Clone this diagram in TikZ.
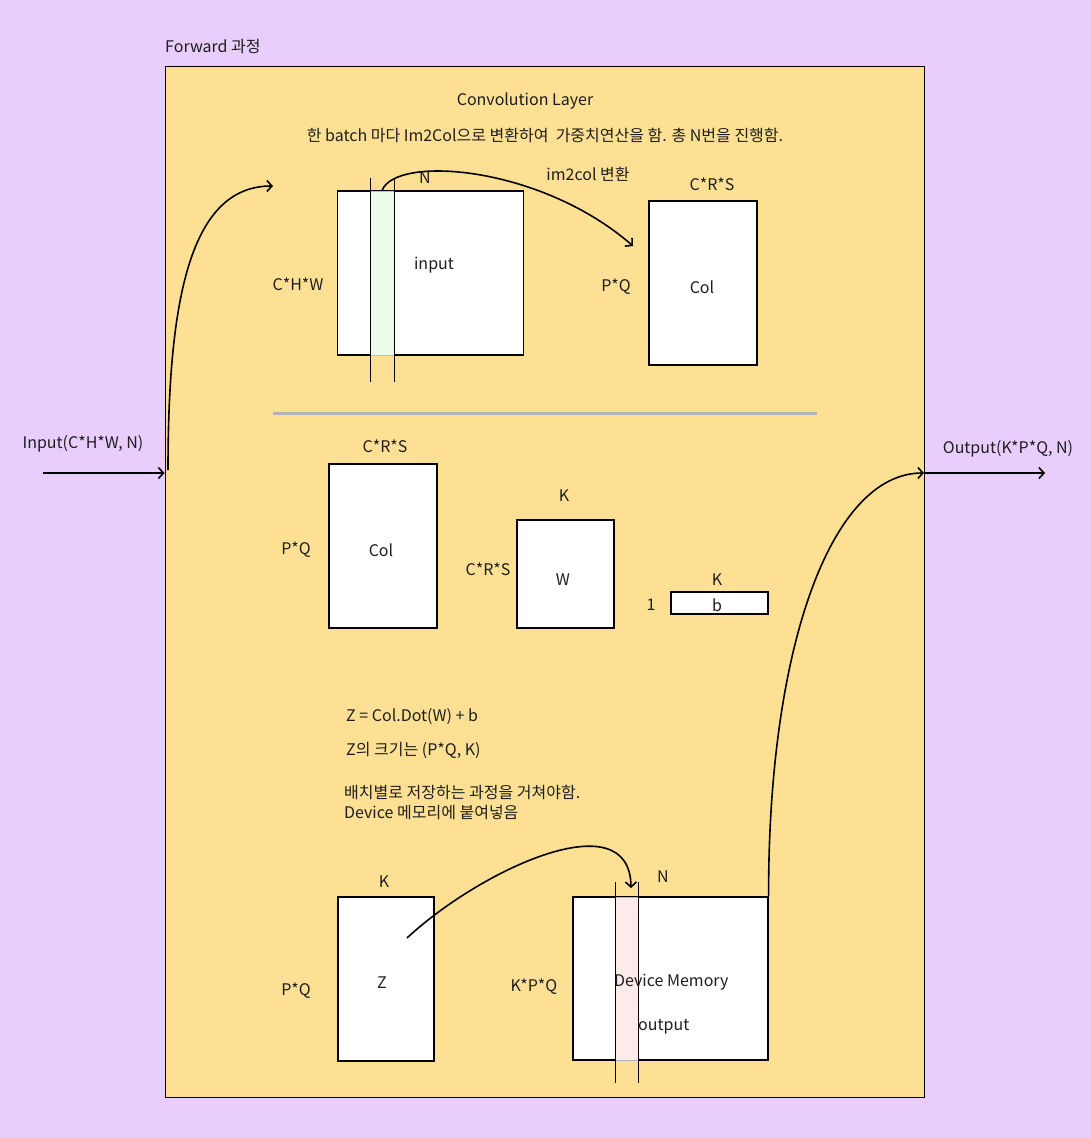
\documentclass[tikz,border=0pt]{standalone}
\usepackage{fontspec}
\setmainfont{Noto Sans CJK KR}
\usetikzlibrary{positioning,arrows.meta}
\definecolor{bgpurple}{HTML}{E9CEFD}
\definecolor{layeryellow}{HTML}{FDE093}
\definecolor{stripgreen}{HTML}{EEFAEA}
\definecolor{strippink}{HTML}{FDEAEA}
\definecolor{stripedge}{HTML}{B8C4B4}
\definecolor{sepgray}{HTML}{B3B3B3}
\definecolor{ink}{HTML}{1E1E1E}

\begin{document}
\begin{tikzpicture}[x=1pt,y=-1pt,
    font=\fontsize{16}{19}\selectfont, text=ink,
    mat/.style={draw=black, fill=white, line width=1.2pt, inner sep=0pt},
    strip/.style={draw=stripedge, line width=0.8pt, inner sep=0pt},
    lbl/.style={inner sep=0pt, yshift=-1.5pt},
    flow/.style={line width=1.6pt, -{Straight Barb[length=5pt,width=11pt]}},
    guide/.style={line width=1pt}]
    \useasboundingbox (0,0) rectangle (1091,1138);
    \fill[bgpurple] (0,0) rectangle (1091,1138);

    % layer frame
    \node[draw=black, fill=layeryellow, line width=1pt, inner sep=0pt,
          minimum width=759pt, minimum height=1031pt] (frame) at (544.5,581.5) {};
    \node[lbl, anchor=west] (fwd) at (165,45) {Forward 과정};
    \node[lbl] (title) at (525,100) {Convolution Layer};
    \node[lbl] (desc) at (545,134) {한 batch 마다 Im2Col으로 변환하여 \ 가중치연산을 함. 총 N번을 진행함.};

    % im2col step
    \node[mat, minimum width=186pt, minimum height=164pt] (inbox) at (430.5,273) {};
    \node[strip, fill=stripgreen, minimum width=24pt, minimum height=164pt] (gstrip) at (382,273) {};
    \draw[guide] (370,178) -- (370,382);
    \draw[guide] (394,178) -- (394,382);
    \node[lbl] at (434,264) {input};
    \node[lbl] at (425,176) {N};
    \node[lbl] at (298,283) {C*H*W};

    \node[mat, minimum width=108pt, minimum height=164pt] (colA) at (703,283) {};
    \node[lbl] at (702,286) {Col};
    \node[lbl] at (712,183) {C*R*S};
    \node[lbl] at (616,285) {P*Q};
    \node[lbl] at (588,173) {im2col 변환};

    \draw[sepgray, line width=3pt] (273,413) -- (817,413);

    % dot product
    \node[mat, minimum width=108pt, minimum height=164pt] (colB) at (383,546) {};
    \node[lbl] at (381,549) {Col};
    \node[lbl] at (385,445) {C*R*S};
    \node[lbl] at (296,548) {P*Q};

    \node[mat, minimum width=97pt, minimum height=108pt] (wbox) at (565.5,574) {};
    \node[lbl] at (563,578) {W};
    \node[lbl] at (564,494) {K};
    \node[lbl] at (488,568) {C*R*S};

    \node[mat, minimum width=97pt, minimum height=22pt] (bbox) at (719.5,603) {};
    \node[lbl] at (717,604) {b};
    \node[lbl] at (717,578) {K};
    \node[lbl] at (651,603) {1};

    \node[lbl, anchor=west] at (346,715) {Z = Col.Dot(W) + b};
    \node[lbl, anchor=west] at (346,749) {Z의 크기는 (P*Q, K)};
    \node[lbl, anchor=west, align=left, font=\fontsize{16}{20}\selectfont] at (344,801)
        {배치별로 저장하는 과정을 거쳐야함.\\Device 메모리에 붙여넣음};

    % store to device memory
    \node[mat, minimum width=96pt, minimum height=164pt] (zbox) at (386,979) {};
    \node[lbl] at (382,981) {Z};
    \node[lbl] at (384,880) {K};
    \node[lbl] at (296,989) {P*Q};

    \node[mat, minimum width=195pt, minimum height=163pt] (dbox) at (670.5,978.5) {};
    \node[strip, draw=sepgray, fill=strippink, minimum width=23pt, minimum height=163pt] (pstrip) at (626.5,978.5) {};
    \draw[guide] (615,882) -- (615,1083);
    \draw[guide] (638,882) -- (638,1083);
    \node[lbl, anchor=west] at (614,981) {Device Memory};
    \node[lbl, anchor=west] at (638,1025) {output};
    \node[lbl] at (663,875) {N};
    \node[lbl] at (534,985) {K*P*Q};

    % in / out
    \coordinate (inStart) at (43,473);
    \coordinate (inTurn) at (168,470);
    \coordinate (inEnd) at (273,186);
    \coordinate (colTip) at (633,246);
    \coordinate (zStart) at (407,938);
    \coordinate (dTip) at (631,888);
    \coordinate (outJoin) at (924,473);
    \coordinate (outEnd) at (1045,473);

    \node[lbl] at (83,442) {Input(C*H*W, N)};
    \node[lbl] at (1008,447) {Output(K*P*Q, N)};

    \draw[flow] (inStart) -- (inStart -| frame.west);
    \draw[flow] (inTurn) .. controls (168,300) and (190,186) .. (inEnd);
    \draw[flow] (gstrip.north) .. controls (395,155) and (540,165) .. (colTip);
    \draw[flow] (zStart) .. controls (480,870) and (630,800) .. (dTip);
    \draw[flow] (dbox.north east) .. controls (768,650) and (830,473) .. (outJoin);
    \draw[flow] (outJoin) -- (outEnd);
\end{tikzpicture}
\end{document}
